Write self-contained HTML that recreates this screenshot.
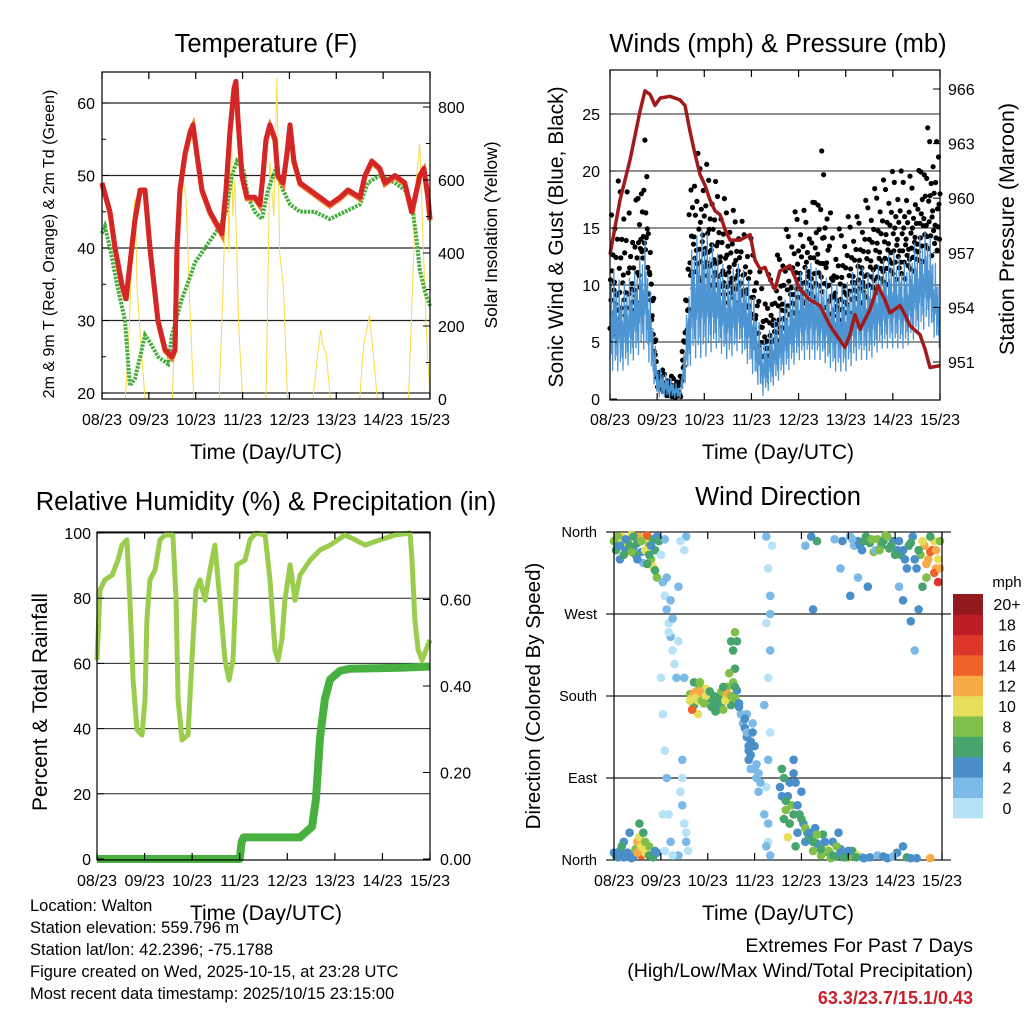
<!DOCTYPE html>
<html><head><meta charset="utf-8"><style>
html,body{margin:0;padding:0;background:#fff}
svg{display:block;font-family:"Liberation Sans",Arial,sans-serif}
</style></head><body>
<svg id="c" width="1024" height="1024" viewBox="0 0 1024 1024" xmlns="http://www.w3.org/2000/svg"></svg>
<script>
// ---------- DATA ----------
const dayLabels = ["08/23","09/23","10/23","11/23","12/23","13/23","14/23","15/23"];
const tempT = [0,4.1,6.7,10.2,12.3,16.9,19.5,22,24.6,28.7,32.3,35.8,37.4,38.4,39.9,42.5,45.1,46.6,48.6,51.2,55.3,59.4,61.4,63.5,65.5,67.6,68.6,69.6,71.7,74.2,78.3,80.9,82.4,84,86,88.6,90.1,92.7,94.7,96.3,98.3,101.4,106.5,111.6,116.7,121.9,126,132.1,134.7,138.2,142.3,144.9,150,155.1,158.7,162.8,164.9,167,168];
const tempV = [49,45,40,35,33,44,48,48,40,30,26,25,26,40,48,53,56,57,53,48,45,43,42,48,56,62,63,58,50,47,47,46,50,55,57,55,50,49,53,57,52,49,48,47,46,47,48,47,50,52,51,49,50,49,45,50,51,47,44];
const dewT = [0,1.5,4.1,7.7,11.8,14.3,16.9,19.5,22,24.6,28.7,33.8,35.8,38.9,40.9,45.1,47.6,50.2,52.7,57.9,60.4,63.5,66.6,69.1,72.2,74.8,78.3,81.9,85,89.1,92.7,96.3,101.4,109,116.7,124.4,132.1,136.2,142.3,150,155.1,158.7,160.8,162.8,165.4,168];
const dewV = [42,43,40,35,30,21,22,25,28,27,25,24,28,31,33,36,38,39,40,42,43,45,50,52,51,47,45,44,48,51,48,46,45,45,44,45,46,49,50,49,48,46,42,37,34,32];
const solarT = [0,12,14,16,17,18,20,22, 36,38,40,41.5,43,45,47, 60,62,64,65,66,67,68,70,72, 84,86,88,89.6,91,93,95, 108,110,112,113,115,117, 132,134,136,137,139,141, 157,159,161,162.8,164,166,168];
const solarV = [0,0,200,500,550,300,150,0, 0,300,500,600,550,250,0, 0,300,700,400,830,500,600,200,0, 0,650,500,880,400,300,0, 0,100,190,150,120,0, 0,150,200,230,120,0, 0,300,600,700,500,200,0];
const windT = [0,6,12,18,24,30,36,42,48,54,60,66,72,78,84,90,96,102,108,114,120,126,132,138,144,150,156,162,168];
const windLo = [2,2,3,4,0,0,0,3,3,4,3,4,2,0,1,2,3,3,3,2,2,3,3,4,4,4,5,6,4];
const windHi = [12,10,11,14,3,2,1,14,15,13,11,12,10,5,7,9,11,12,11,10,10,12,11,12,13,12,14,15,10];
const gustLo = [5,5,6,12,1,0,0,9,10,9,8,8,5,2,4,5,7,8,8,6,6,8,8,9,10,10,11,12,12];
const gustHi = [17,20,16,23,3,2,2,22,21,19,17,16,14,10,12,15,17,16,22,14,16,16,18,19,20,20,19,24,22];
const presT = [0,5.1,10.2,15.3,17.8,20.4,22.9,25.5,30.5,35.6,38.2,40.7,43.3,45.8,48.4,50.9,53.5,56,58.5,61.1,66.2,71.3,73.8,76.4,78.9,81.5,84,86.5,91.6,96.7,101.8,106.9,112,117.1,119.6,122.2,124.7,127.3,132.4,136.4,140,142.5,147.6,150.2,152.7,157.8,160.4,162.9,168];
const presV = [956.9,959.9,962.1,964.8,965.9,965.7,965.1,965.5,965.6,965.4,965.1,963.7,962.4,961.3,960.7,959.9,959.3,959.1,958.3,957.7,957.7,958.0,956.6,956.1,956.2,955.5,955.0,956.0,956.3,955.0,954.4,954.1,953.0,952.2,951.8,952.5,953.6,952.8,953.9,955.2,954.4,953.7,954.1,953.6,953.0,952.5,951.7,950.7,950.8];
const rhT = [0,1.5,4,7.6,10.6,12.6,15.1,16.6,18.2,20.2,22.7,24.2,25.2,26.7,29.3,31.8,34.3,38.3,39.9,40.9,42.9,45.9,47.9,49.9,52,54.5,57,59.5,62,64.6,66.6,68.6,70.6,74.7,77.2,80.2,84.8,87.3,89.8,91.3,93.3,94.8,97.4,99.9,100.9,102.4,107.5,112.5,117.6,125.1,130.2,135.2,142.8,150.4,157.9,158.9,160.4,162,164,166,168];
const rhV = [61,82.5,85.6,87.1,91.7,96.3,97.9,79.4,54.9,39.6,38,48.8,73.3,85.6,88.7,97.9,99.4,99.4,79.4,48.8,36.5,38,61,82.5,85.6,79.4,88.7,96.3,79.4,61,54.9,61,90.2,91.7,97.9,100,99.4,85.6,64.1,61,67.2,79.4,90.2,79.4,82.5,87.1,91.7,94.8,96.3,99.4,97.9,96.3,97.9,99.4,100,91.7,73.3,64.1,61,64.1,67.2];
const prT = [0,72,73,74,102.4,104.9,108.5,110.5,112.5,115,117.6,122.6,127.6,152.9,168];
const prV = [0,0,0.04,0.05,0.05,0.06,0.075,0.14,0.28,0.37,0.415,0.435,0.44,0.442,0.445];
const dirT = [0,2,4,6,7,9,10,12,13,14,16,17,18,19,20,21,22,23,3,11,15,20,22,21,
1,3,5,7,9,11,12,13,14,15,16,18,20,22,13,8,5,
24,25,26,27,28,29,30,27,29,31,32,28,30,37,36,35,36,37,34,33,35,38,34,26,25,26,27,28,29,30,33,33,36,37,35,24,25,26,
39,40,41,42,43,44,45,46,47,48,49,50,51,52,53,41,43,44,40,48,
54,55,56,57,58,59,60,61,62,61,60,62,63,64,65,66,59,63,62,
67,68,69,70,71,72,73,70,68,74,69,
78,79,80,78,80,79,77,80,79,78,77,79,80,81,80,78,79,
85,87,89,91,93,95,97,99,88,92,96,98,90,94,86,92,89,87,93,
100,102,104,106,108,110,112,114,116,118,120,103,107,111,115,122,125,127,
131,135,140,145,150,155,162,148,143,
121,123,125,127,129,131,133,135,137,139,141,143,145,147,149,151,153,155,157,159,161,163,165,166,164,160,158,150,148,152,156,146,154,125,121,117,113,98,101,104,102,116,130,134,167,162];
const dirD = [350,345,355,340,350,357,343,348,355,338,352,356,345,330,352,340,355,350,330,335,326,322,310,318,
5,10,3,8,2,12,20,25,5,30,8,15,3,8,40,30,20,
335,305,290,275,260,245,230,310,285,215,200,250,265,355,340,60,40,20,75,5,90,10,350,352,160,120,90,50,20,5,300,240,200,30,110,200,50,10,
182,178,170,185,175,190,183,180,188,172,178,168,180,175,165,195,160,195,165,185,
180,172,165,183,190,175,170,195,210,230,240,178,186,172,160,150,205,240,250,
145,135,125,115,150,100,90,130,160,75,110,
355,320,290,260,230,200,170,140,110,80,50,20,5,345,270,15,40,
80,90,70,60,85,50,40,30,55,95,75,20,40,30,100,110,25,45,15,
25,10,18,5,15,8,20,4,12,6,3,35,28,2,30,10,5,3,
3,5,2,8,3,2,2,15,4,
355,345,350,340,355,348,338,352,345,356,342,350,340,335,330,345,355,320,335,345,330,340,320,305,350,310,300,320,285,262,275,300,230,310,290,350,352,345,355,350,275,320,300,340,350,355];
const dirS = [8,6,10,4,7,9,4,6,12,4,10,14,8,8,6,6,4,6,4,6,2,10,8,6,
6,4,4,4,4,8,12,10,14,6,10,8,6,4,6,4,4,
0,1,0,1,0,1,0,2,1,0,1,0,1,1,0,1,0,1,0,1,0,0,0,1,0,0,1,0,1,0,1,0,1,0,1,0,0,0,
8,10,6,12,10,8,12,11,10,8,6,6,6,6,4,6,10,8,14,10,
6,6,8,10,8,10,6,8,6,6,6,8,4,4,2,2,8,6,8,
4,4,4,4,2,2,2,4,2,2,4,
1,0,1,0,1,0,1,0,1,0,1,0,1,0,1,2,2,
4,6,4,8,4,6,4,6,8,4,4,4,6,4,6,4,10,6,6,
6,8,4,8,10,6,4,6,4,6,8,4,6,8,4,6,10,2,
4,2,4,4,6,4,12,4,2,
2,2,4,4,6,6,8,8,6,8,6,4,4,6,4,6,4,4,8,12,12,14,12,16,10,8,6,4,4,4,4,2,2,2,4,4,2,2,4,6,4,2,4,2,8,6];
const dirT2 = [1,2,4,5,6,8,9,10,12,14,16,18,19,3,17, 0,2,4,6,10,12,14,16,18,21, 39,41,42,44,45,47,49,51,53,55,57,58,60,62,64,56,52,46, 67,68,69,70,71,72,73,74,75, 86,88,90,92,94,96,98,100,102,104,106,108,110,112,114,116,118,120,124,128,138,152, 122,126,128,132,136,138,140,142,144,146,148,152,154,156,158,160,162,164,165,166,167];
const dirD2 = [340,355,348,335,352,345,338,355,330,350,340,335,345,345,325, 8,3,15,5,4,8,15,20,5,10, 175,183,178,185,175,180,185,170,178,185,175,183,180,190,168,190,163,172, 155,140,120,100,140,125,105,95,85, 70,65,85,50,60,45,35,30,20,28,12,20,10,5,15,8,3,10,3,2,4,2, 352,345,350,352,340,350,355,345,335,350,340,348,330,340,350,325,338,315,340,330,320];
const dirS2 = [6,8,10,6,4,6,8,6,4,8,10,6,4,4,6, 4,4,6,4,4,12,10,8,6,4, 10,12,10,12,8,10,6,6,6,8,10,12,8,6,4,6,6,8, 4,2,4,2,4,4,2,2,2, 4,6,4,6,4,6,8,4,6,8,6,4,8,6,8,4,6,4,6,4,4,4, 2,4,6,8,8,6,8,6,6,4,4,6,4,6,10,12,14,14,12,10,12];
const speedLabels = ["0","2","4","6","8","10","12","14","16","18","20+"];
const speedColors = ["#b6e2f8","#7bbae6","#4a8fc8","#46a46c","#80c04a","#e6df5a","#f6ab48","#ef6229","#df362b","#bb1e24","#931a1c"];

// ---------- HELPERS ----------
const NS="http://www.w3.org/2000/svg";
const svg=document.getElementById('c');
function mk(tag,attrs,parent){const e=document.createElementNS(NS,tag);for(const k in attrs)e.setAttribute(k,attrs[k]);(parent||svg).appendChild(e);return e;}
function txt(x,y,s,size,anchor,parent,extra){const e=mk('text',Object.assign({x:x,y:y,'font-size':size,'text-anchor':anchor||'middle',fill:'#000'},extra||{}),parent);e.textContent=s;return e;}
function line(x1,y1,x2,y2,parent,w,col){return mk('line',{x1:x1,y1:y1,x2:x2,y2:y2,stroke:col||'#000','stroke-width':w||1},parent);}
function pts(T,V,fx,fy){return T.map((t,i)=>fx(t).toFixed(1)+','+fy(V[i]).toFixed(1)).join(' ');}
function interp(T,V,t){for(let i=1;i<T.length;i++){if(t<=T[i]){const f=(t-T[i-1])/(T[i]-T[i-1]);return V[i-1]+f*(V[i]-V[i-1]);}}return V[V.length-1];}
const TF=16, TITLE=25.5, AX=21;

function frame(g,L,R,T,B,nm){
  const r=mk('rect',{x:L,y:T,width:R-L,height:B-T,fill:'none',stroke:'#000','stroke-width':1.2},g);
  
  
}
function xAxis(g,L,R,B,T,labelY){
  const ax=mk('g',{},g);
  
  
  for(let d=0;d<8;d++){
    const x=L+(R-L)*d/7;
    line(x,B,x,B-7,ax,1.2);line(x,T,x,T+7,ax,1.2);
    const lb=txt(x,labelY,dayLabels[d],TF,'middle',ax);
    
    
  }
}

// ---------- PANEL 1 ----------
(function(){
  const L=102,R=430,T=72,B=399;
  const g=mk('g',{});
  
  
  const fx=h=>L+h/168*(R-L), fy=v=>393-(v-20)*7.25, fs=v=>399-v*0.365;
  [20,30,40,50,60].forEach(v=>line(L,fy(v),R,fy(v),g,1.2,'#222'));
  const sol=mk('polyline',{points:pts(solarT,solarV,fx,fs),fill:'none',stroke:'#f7dc4a','stroke-width':1},g);
  
  
  const dew=mk('polyline',{points:pts(dewT,dewV,fx,fy),fill:'none',stroke:'#45ad3c','stroke-width':4,'stroke-dasharray':'2.5 1.2'},g);
  
  
  const or=mk('polyline',{points:pts(tempT,tempV,fx,v=>fy(v)+1.5),fill:'none',stroke:'#f07a2a','stroke-width':5},g);
  
  
  const rd=mk('polyline',{points:pts(tempT,tempV,fx,fy),fill:'none',stroke:'#d42626','stroke-width':5,'stroke-linejoin':'round'},g);
  
  
  frame(g,L,R,T,B,'temperature-plot-frame');
  [20,30,40,50,60].forEach(v=>{line(L,fy(v),L+7,fy(v),g);const t=txt(L-7,fy(v)+6,String(v),TF,'end',g);});
  [25,35,45,55].forEach(v=>line(L,fy(v),L+4,fy(v),g));
  [0,200,400,600,800].forEach(v=>{line(R,fs(v),R-7,fs(v),g);const t=txt(R+8,fs(v)+6,String(v),TF,'start',g);});
  [100,300,500,700].forEach(v=>line(R,fs(v),R-4,fs(v),g));
  xAxis(g,L,R,B,T,425);
  const ti=txt(266,52,'Temperature (F)',TITLE,'middle',g);
  const xt=txt(266,459,'Time (Day/UTC)',AX,'middle',g);
  const yt=txt(0,0,'2m & 9m T (Red, Orange) & 2m Td (Green)',16,'middle',g,{transform:'translate(54,244) rotate(-90)'});
  const y2=txt(0,0,'Solar Insolation (Yellow)',17.5,'middle',g,{transform:'translate(497,235) rotate(-90)'});
})();

// ---------- PANEL 2 ----------
(function(){
  const L=610,R=940,T=70,B=400;
  const g=mk('g',{});
  
  
  const fx=h=>L+h/168*(R-L), fy=v=>399-v*11.4, fp=v=>362-(v-951)*18.2;
  [5,10,15,20,25].forEach(v=>line(L,fy(v),R,fy(v),g,1,'#222'));
  const fr=[0.1,0.45,0.3,0.9,0.5,0.2,0.6,0.05,0.35,0.4,0.75,0.25,0.55,0.15,0.3,0.65,0.2,1.0];
  const gd=mk('g',{fill:'#000'},g);
  
  
  let k=0;
  for(let t=0;t<=168;t+=0.25){const lo=interp(windT,gustLo,t),hi=interp(windT,gustHi,t);const v=lo+fr[k%fr.length]*(hi-lo);k++;mk('circle',{cx:fx(t).toFixed(1),cy:fy(v).toFixed(1),r:2.6},gd);}
  let wp=[];k=0;
  const fr2=[0.15,0.7,0.3,0.85,0.2,0.6,0.05,0.55,0.35,1.0,0.4,0.75];
  for(let t=0;t<=168;t+=0.22){const lo=interp(windT,windLo,t),hi=interp(windT,windHi,t);const v=lo+fr2[k%fr2.length]*(hi-lo);k++;wp.push(fx(t).toFixed(1)+','+fy(v).toFixed(1));}
  const wl=mk('polyline',{points:wp.join(' '),fill:'none',stroke:'#4d94d2','stroke-width':1.3},g);
  
  
  const pl=mk('polyline',{points:pts(presT,presV,fx,fp),fill:'none',stroke:'#a11b1b','stroke-width':3.5,'stroke-linejoin':'round'},g);
  
  
  frame(g,L,R,T,B,'winds-plot-frame');
  [0,5,10,15,20,25].forEach(v=>{line(L,fy(v),L+7,fy(v),g);const t=txt(L-10,fy(v)+6,String(v),TF,'end',g);});
  [951,954,957,960,963,966].forEach(v=>{line(R,fp(v),R-7,fp(v),g);const t=txt(R+8,fp(v)+6,String(v),TF,'start',g);});
  xAxis(g,L,R,B,T,425);
  const ti=txt(778,52,'Winds (mph) & Pressure (mb)',TITLE,'middle',g);
  const xt=txt(778,459,'Time (Day/UTC)',AX,'middle',g);
  const yt=txt(0,0,'Sonic Wind & Gust (Blue, Black)',21,'middle',g,{transform:'translate(563,237) rotate(-90)'});
  const y2=txt(0,0,'Station Pressure (Maroon)',21.5,'middle',g,{transform:'translate(1014,229) rotate(-90)'});
})();

// ---------- PANEL 3 ----------
(function(){
  const L=97,R=430,T=532,B=860;
  const g=mk('g',{});
  
  
  const fx=h=>L+h/168*(R-L), fy=v=>859-v*3.26, fp=v=>859-v*432.5;
  [20,40,60,80,100].forEach(v=>line(L,fy(v),R,fy(v),g,1,'#222'));
  const rh=mk('polyline',{points:pts(rhT,rhV,fx,fy),fill:'none',stroke:'#9acd4e','stroke-width':5,'stroke-linejoin':'round'},g);
  
  
  const pr=mk('polyline',{points:pts(prT,prV,fx,fp),fill:'none',stroke:'#48b041','stroke-width':8,'stroke-linejoin':'round'},g);
  
  
  frame(g,L,R,T,B,'humidity-plot-frame');
  [0,20,40,60,80,100].forEach(v=>{line(L,fy(v),L+7,fy(v),g);const t=txt(L-6,fy(v)+6,String(v),TF,'end',g);});
  [0,0.2,0.4,0.6].forEach(v=>{line(R,fp(v),R-7,fp(v),g);const t=txt(R+10,fp(v)+6,v.toFixed(2),TF,'start',g);});
  xAxis(g,L,R,B,T,886);
  const ti=txt(266,510,'Relative Humidity (%) & Precipitation (in)',TITLE,'middle',g);
  const xt=txt(266,920,'Time (Day/UTC)',AX,'middle',g);
  const yt=txt(0,0,'Percent & Total Rainfall',21,'middle',g,{transform:'translate(47,702) rotate(-90)'});
})();

// ---------- PANEL 4 ----------
(function(){
  const L=614,R=942,T=532,B=860;
  const g=mk('g',{});
  
  
  const fx=h=>L+h/168*(R-L), fy=d=>860-d/360*328;
  const dl=['North','East','South','West','North'];
  [0,90,180,270,360].forEach((d,i)=>{line(606,fy(d),951,fy(d),g,1.2,'#222');const t=txt(597,fy(d)+5,dl[i],14.5,'end',g);});
  const sc=mk('g',{},g);
  
  
  const allT=dirT.concat(dirT2), allD=dirD.concat(dirD2), allS=dirS.concat(dirS2);
  allT.forEach((t,i)=>{const idx=Math.min(10,Math.round(allS[i]/2));const c=mk('circle',{cx:fx(t).toFixed(1),cy:fy(allD[i]).toFixed(1),r:4.3,fill:speedColors[idx]},sc);
    
    });
  line(L,T,L,B,g,1.2);line(R,T,R,B,g,1.2);
  xAxis(g,L,R,B,T,886);
  const ti=txt(778,505,'Wind Direction',TITLE,'middle',g);
  const xt=txt(778,920,'Time (Day/UTC)',AX,'middle',g);
  const yt=txt(0,0,'Direction (Colored By Speed)',20.5,'middle',g,{transform:'translate(540,696) rotate(-90)'});
  const lg=mk('g',{},g);
  
  
  const bh=224/11;
  speedLabels.forEach((s,i)=>{const y=818-(i+1)*bh;const r=mk('rect',{x:953,y:y.toFixed(1),width:30,height:(bh+0.3).toFixed(1),fill:speedColors[i]},lg);
    
    
    const t=txt(1007,y+bh/2+6,s,16,'middle',lg);});
  const mp=txt(1007,587,'mph',15,'middle',lg);
})();

// ---------- FOOTER ----------
(function(){
  const g=mk('g',{});
  
  
  ["Location: Walton","Station elevation: 559.796 m","Station lat/lon: 42.2396; -75.1788","Figure created on Wed, 2025-10-15, at 23:28 UTC","Most recent data timestamp: 2025/10/15 23:15:00"].forEach((s,i)=>{const t=txt(30,911+i*22,s,16.5,'start',g);});
  const e=mk('g',{});
  
  
  const a=txt(973,952,'Extremes For Past 7 Days',19.5,'end',e);
  const b=txt(973,977,'(High/Low/Max Wind/Total Precipitation)',19.5,'end',e);
  const c=txt(973,1004,'63.3/23.7/15.1/0.43',18,'end',e,{fill:'#c8202a','font-weight':'bold'});
})();
</script>
</body></html>
